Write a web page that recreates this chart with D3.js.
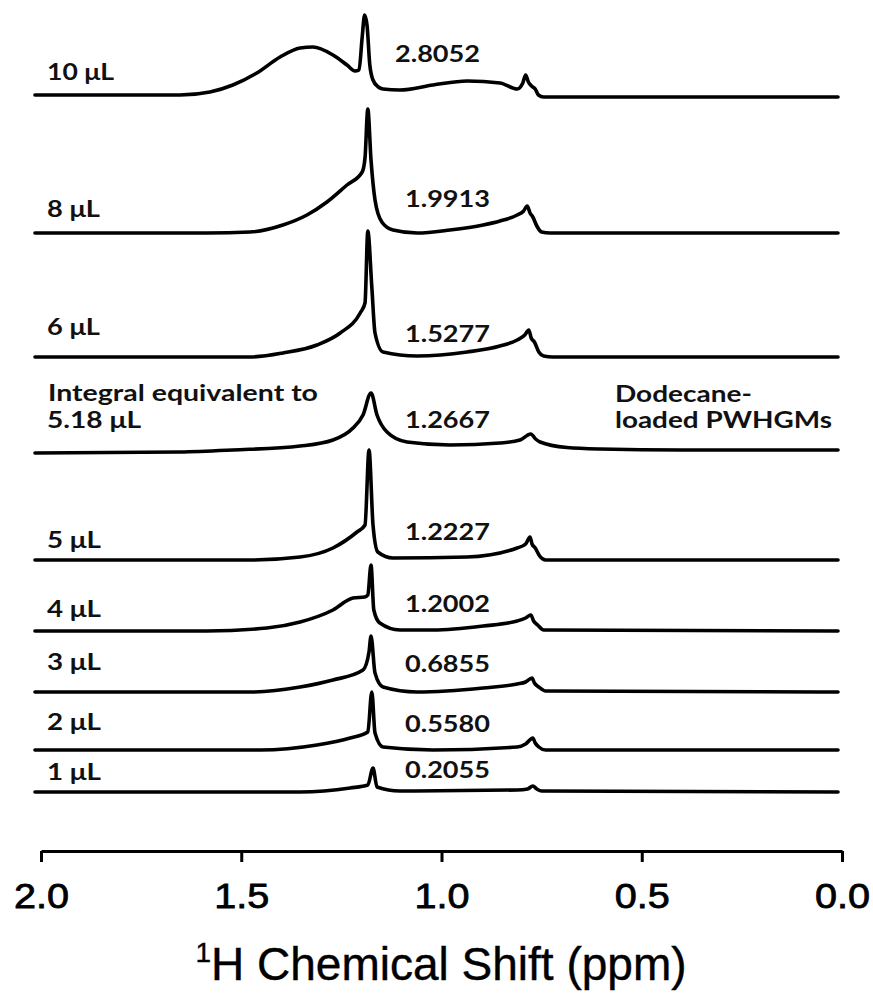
<!DOCTYPE html>
<html>
<head>
<meta charset="utf-8">
<script src="https://cdn.jsdelivr.net/npm/d3@7/dist/d3.min.js"></script>
<style>
  html, body { margin: 0; padding: 0; background: #fff; }
  svg { display: block; }
</style>
</head>
<body>
<svg id="chart" width="873" height="993"></svg>
<script>
// ---- Data ------------------------------------------------------------
// Chemical-shift axis ticks (ppm)
const ppmTicks = [2.0, 1.5, 1.0, 0.5, 0.0];

// Sample labels, top trace first
const sampleLabels = ["10 μL", "8 μL", "6 μL", "5.18 μL", "5 μL", "4 μL", "3 μL", "2 μL", "1 μL"];

// Integral of each trace, top trace first
const integrals = ["2.8052", "1.9913", "1.5277", "1.2667", "1.2227", "1.2002", "0.6855", "0.5580", "0.2055"];

// Spectra as [ppm, intensity (a.u.)] pairs, ordered from high to low ppm
const spec10 = [[2.015,2],[1.653,2],[1.578,5],[1.521,12],[1.461,24],[1.403,40],[1.353,49],[1.321,50],[1.271,42],
  [1.236,32],[1.216,26],[1.206,27],[1.198,60],[1.192,82],[1.186,72],[1.179,32],[1.171,17],[1.158,10],[1.146,8],
  [1.104,7],[1.021,12],[0.936,16],[0.854,14],[0.811,8],[0.797,14],[0.790,22],[0.783,15],[0.775,11],[0.766,8],
  [0.758,2],[0.745,0],[0.010,0]];
const spec8 = [[2.015,0],[1.586,0],[1.478,1],[1.396,8],[1.336,18],[1.286,31],[1.236,48],[1.198,61],[1.191,75],
  [1.184,124],[1.176,73],[1.166,33],[1.149,11],[1.121,3],[1.061,0],[0.979,3],[0.896,8],[0.854,12],[0.811,18],
  [0.795,22],[0.786,27],[0.779,20],[0.772,16],[0.762,7],[0.750,1],[0.729,0],[0.010,0]];
const spec6 = [[2.015,0],[1.478,0],[1.396,4],[1.311,12],[1.253,24],[1.203,44],[1.191,54],[1.184,126],[1.174,70],
  [1.166,24],[1.146,5],[1.061,1],[0.936,5],[0.854,11],[0.811,17],[0.792,22],[0.782,27],[0.776,19],[0.768,15],
  [0.757,5],[0.745,1],[0.722,0],[0.010,0]];
const spec518 = [[2.015,0],[1.653,1],[1.521,3],[1.353,7],[1.271,13],[1.221,25],[1.196,38],[1.176,60],[1.161,38],
  [1.136,21],[1.086,11],[0.979,8],[0.854,10],[0.804,13],[0.777,19],[0.765,14],[0.754,11],[0.687,5.5],
  [0.604,4],[0.400,3],[0.010,3]];
const spec5 = [[2.015,0],[1.478,0],[1.353,3],[1.271,12],[1.211,28],[1.191,35],[1.181,110],[1.171,35],[1.159,8],
  [1.121,2],[0.936,3],[0.811,12],[0.790,16],[0.779,23],[0.774,16],[0.766,12],[0.755,4],[0.740,0],[0.010,0]];
const spec4 = [[2.015,0],[1.586,0],[1.436,3],[1.353,9],[1.271,21],[1.221,33],[1.191,34],[1.184,36],[1.176,66],
  [1.169,21],[1.154,8],[1.104,1],[1.021,1],[0.896,5],[0.811,10],[0.790,13],[0.777,16],[0.770,10],[0.760,6],
  [0.745,1],[0.010,0]];
const spec3 = [[2.015,0],[1.478,0],[1.353,5],[1.271,12],[1.196,22],[1.181,40],[1.176,56],[1.166,19],[1.146,5],
  [1.061,0],[0.896,4],[0.811,8],[0.790,10],[0.774,14],[0.768,9],[0.757,5],[0.740,1],[0.010,0]];
const spec2 = [[2.015,0],[1.453,0],[1.311,5],[1.228,12],[1.184,18],[1.174,58],[1.166,17],[1.146,3],[1.021,0],
  [0.811,3],[0.790,6],[0.772,12],[0.766,7],[0.757,3],[0.740,0],[0.010,0]];
const spec1 = [[2.015,0],[1.353,0],[1.228,4],[1.184,7],[1.171,24],[1.161,5],[1.104,1],[0.811,2],[0.785,3],
  [0.772,6],[0.762,3],[0.750,1],[0.010,0]];

const spectra = [spec10, spec8, spec6, spec518, spec5, spec4, spec3, spec2, spec1];

// ---- Layout ------------------------------------------------------------
// vertical position of each trace's zero line
const traceBase = [97, 233, 357, 453, 560, 631, 692, 750, 792];
const labelBaseline = [80, 217, 335, 428, 548, 617, 670, 730, 780];
const labelWidth = [67, 53, 53, 94, 54, 54, 54, 54, 54];
const integralBaseline = [62, 207, 342, 428, 540, 612, 672, 732, 778];

const svg = d3.select("#chart");

const x = d3.scaleLinear().domain([2.0, 0.0]).range([41, 842]);
const amp = d3.scaleLinear().domain([0, 100]).range([0, 100]);

const line = d3.line()
  .x(d => x(d[0]))
  .y(d => -amp(d[1]))
  .curve(d3.curveMonotoneX);

const traces = svg.append("g").attr("class", "traces");
spectra.forEach((s, i) => {
  traces.append("path")
    .datum(s)
    .attr("transform", `translate(0,${traceBase[i]})`)
    .attr("d", line)
    .attr("fill", "none")
    .attr("stroke", "#000")
    .attr("stroke-width", 3.6)
    .attr("stroke-linejoin", "round")
    .attr("stroke-linecap", "round");
});

const labelFont = "Lato, 'Open Sans', sans-serif";

function fitText(sel, w) {
  return sel.attr("textLength", w).attr("lengthAdjust", "spacingAndGlyphs");
}

// sample labels on the left
const labels = svg.append("g")
  .attr("font-family", labelFont)
  .attr("font-size", 22)
  .attr("font-weight", 700)
  .attr("fill", "#111");
sampleLabels.forEach((t, i) => {
  fitText(labels.append("text")
    .attr("x", 47)
    .attr("y", labelBaseline[i])
    .text(t), labelWidth[i]);
});
fitText(labels.append("text")
  .attr("x", 48)
  .attr("y", 401)
  .text("Integral equivalent to"), 270);

// integral values
const ints = svg.append("g")
  .attr("font-family", labelFont)
  .attr("font-size", 23)
  .attr("font-weight", 700)
  .attr("fill", "#111");
integrals.forEach((t, i) => {
  fitText(ints.append("text")
    .attr("x", i === 0 ? 395 : 405)
    .attr("y", integralBaseline[i])
    .text(t), 85);
});

// annotation at right
const note = svg.append("g")
  .attr("font-family", labelFont)
  .attr("font-size", 22)
  .attr("font-weight", 700)
  .attr("fill", "#111");
fitText(note.append("text").attr("x", 615).attr("y", 402).text("Dodecane-"), 137);
fitText(note.append("text").attr("x", 615).attr("y", 428).text("loaded PWHGMs"), 217);

// ---- Axis ---------------------------------------------------------------
const axisY = 851;
const axis = d3.axisBottom(x)
  .tickValues(ppmTicks)
  .tickFormat(d3.format(".1f"))
  .tickSize(11)
  .tickSizeOuter(0);

const gAxis = svg.append("g")
  .attr("transform", `translate(0,${axisY})`)
  .call(axis);

gAxis.select(".domain").attr("stroke", "#000").attr("stroke-width", 3);
gAxis.selectAll(".tick line").attr("stroke", "#000").attr("stroke-width", 3);
gAxis.selectAll(".tick text")
  .attr("font-family", "'Liberation Sans', Arial, sans-serif")
  .attr("font-size", 35)
  .attr("fill", "#000")
  .attr("stroke", "#000")
  .attr("stroke-width", 0.8)
  .attr("dy", null)
  .attr("y", 57)
  .attr("textLength", 55)
  .attr("lengthAdjust", "spacingAndGlyphs");

// axis title
const title = svg.append("text")
  .attr("x", 441)
  .attr("y", 980)
  .attr("text-anchor", "middle")
  .attr("font-family", "'Liberation Sans', Arial, sans-serif")
  .attr("font-size", 46)
  .attr("fill", "#000")
  .attr("stroke", "#000")
  .attr("stroke-width", 0.4);
title.append("tspan").attr("font-size", 28).attr("dy", -18).text("1");
title.append("tspan").attr("dy", 18).text("H Chemical Shift (ppm)");
</script>
</body>
</html>
